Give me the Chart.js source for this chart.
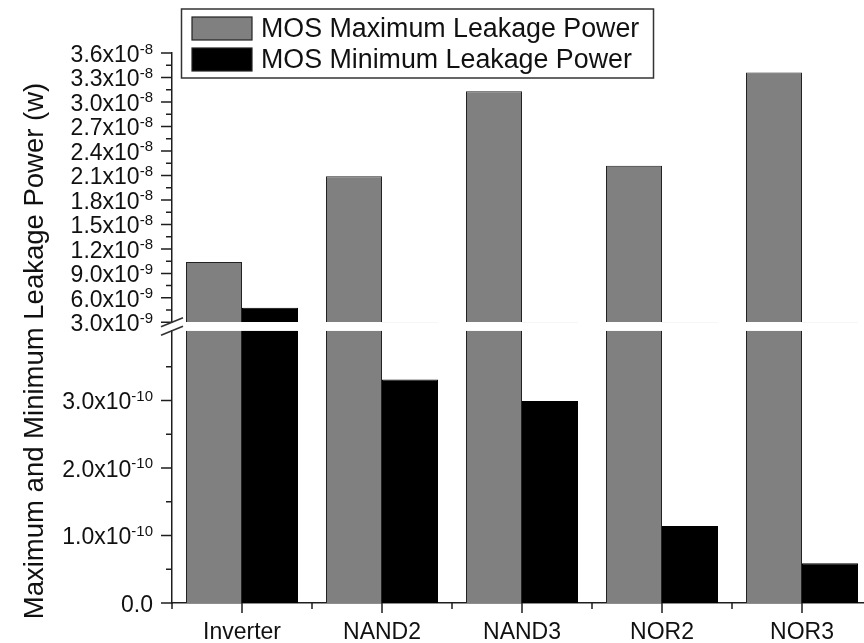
<!DOCTYPE html>
<html>
<head>
<meta charset="utf-8">
<script src="https://cdn.jsdelivr.net/npm/chart.js@4.4.1/dist/chart.umd.min.js"></script>
<style>
  html, body { margin: 0; padding: 0; background: #fff; overflow: hidden; }
  #wrap { width: 880px; height: 643px; }
</style>
</head>
<body>
<div id="wrap"><canvas id="c" width="880" height="643"></canvas></div>
<script>
// Leakage power per logic gate (watts)
const gates = ['Inverter', 'NAND2', 'NAND3', 'NOR2', 'NOR3'];
const maxLeakage = [1.04e-8, 2.09e-8, 3.13e-8, 2.22e-8, 3.36e-8];
const minLeakage = [4.8e-9, 3.31e-10, 2.99e-10, 1.14e-10, 0.59e-10];
const seriesNames = ['MOS Maximum Leakage Power', 'MOS Minimum Leakage Power'];

// Broken value axis: a lower range and an upper range
const lowerRange = [0, 4.03e-10];
const upperRange = [3e-9, 3.6e-8];
const lowerTicks = [0, 1e-10, 2e-10, 3e-10];
const lowerTickLabels = ['0.0', '1.0x10^-10', '2.0x10^-10', '3.0x10^-10'];
const upperTicks = [3e-9, 6e-9, 9e-9, 1.2e-8, 1.5e-8, 1.8e-8, 2.1e-8, 2.4e-8, 2.7e-8, 3.0e-8, 3.3e-8, 3.6e-8];
const upperTickLabels = ['3.0x10^-9', '6.0x10^-9', '9.0x10^-9', '1.2x10^-8', '1.5x10^-8', '1.8x10^-8',
  '2.1x10^-8', '2.4x10^-8', '2.7x10^-8', '3.0x10^-8', '3.3x10^-8', '3.6x10^-8'];
const yTitle = 'Maximum and Minimum Leakage Power (w)';

const FONT = "'Liberation Sans', Arial, Helvetica, sans-serif";
const INK = '#111';
const AXIS = '#1e1e1e';
const GREY = '#808080';

function barSet(label, data, axis, stack, color, edge) {
  const ds = {
    label, data, yAxisID: axis, stack,
    backgroundColor: color, borderColor: edge, borderWidth: 1,
    categoryPercentage: 0.8, barPercentage: 1.0
  };
  if (axis === 'yHigh') ds.base = upperRange[0];
  return ds;
}

// Each bar set is drawn only inside the band of its own value axis
const bandClip = {
  id: 'bandClip',
  beforeDatasetDraw(chart, args) {
    const ys = args.meta.yScale, a = chart.chartArea, ctx = chart.ctx;
    ctx.save();
    ctx.beginPath();
    ctx.rect(a.left, ys.top, a.right - a.left, ys.bottom - ys.top);
    ctx.clip();
  },
  afterDatasetDraw(chart) { chart.ctx.restore(); }
};

// Tick label with a raised power-of-ten exponent, right-aligned at xr
function drawSciLabel(ctx, text, xr, y) {
  const [base, exp] = text.split('^');
  ctx.textAlign = 'right';
  ctx.textBaseline = 'alphabetic';
  let x = xr;
  if (exp) {
    ctx.font = '15px ' + FONT;
    ctx.fillText(exp, x, y + 0.5);
    x -= ctx.measureText(exp).width;
  }
  ctx.font = '23px ' + FONT;
  ctx.fillText(base, x, y + 9);
}

// Tick marks, tick labels, axis-break marks, axis title and legend box
const decorations = {
  id: 'decorations',
  afterDraw(chart) {
    const ctx = chart.ctx;
    const xs = chart.scales.x, hi = chart.scales.yHigh, lo = chart.scales.yLow;
    const ax = hi.right;
    ctx.save();
    ctx.strokeStyle = AXIS;
    ctx.lineWidth = 1.5;

    // value-axis ticks (major + half-step minor) and their labels
    [[hi, upperTickLabels], [lo, lowerTickLabels]].forEach(([s, labels]) => {
      const vals = s.ticks.map(t => t.value);
      const step = vals[1] - vals[0];
      ctx.beginPath();
      vals.forEach(v => {
        const y = s.getPixelForValue(v);
        ctx.moveTo(ax - 11, y); ctx.lineTo(ax, y);
      });
      for (let v = s.min + step / 2; v < s.max; v += step) {
        const y = s.getPixelForValue(v);
        ctx.moveTo(ax - 6, y); ctx.lineTo(ax, y);
      }
      ctx.stroke();
      ctx.fillStyle = INK;
      vals.forEach((v, i) => drawSciLabel(ctx, labels[i], ax - 19, s.getPixelForValue(v)));
    });

    // category-axis ticks: long at centres, short at boundaries
    const y0 = xs.top;
    ctx.beginPath();
    gates.forEach((g, i) => {
      const x = xs.getPixelForValue(i);
      ctx.moveTo(x, y0); ctx.lineTo(x, y0 + 10);
    });
    for (let i = 0; i <= gates.length; i++) {
      const x = xs.getPixelForValue(i - 0.5);
      ctx.moveTo(x, y0); ctx.lineTo(x, y0 + 6);
    }
    ctx.stroke();

    // break marks on the value axis
    ctx.strokeStyle = '#333';
    ctx.lineWidth = 1.6;
    [hi.bottom, lo.top].forEach(yc => {
      ctx.beginPath();
      ctx.moveTo(ax - 11, yc + 4.5);
      ctx.lineTo(ax + 11, yc - 4.5);
      ctx.stroke();
    });

    // axis title
    ctx.fillStyle = INK;
    ctx.font = '27.5px ' + FONT;
    ctx.textAlign = 'center';
    ctx.textBaseline = 'alphabetic';
    ctx.translate(43, 351);
    ctx.rotate(-Math.PI / 2);
    ctx.fillText(yTitle, 0, 0);
    ctx.restore();

    // legend
    ctx.save();
    const box = { x: 181.5, y: 9, w: 472, h: 69 };
    ctx.fillStyle = '#fff';
    ctx.fillRect(box.x, box.y, box.w, box.h);
    ctx.strokeStyle = '#333';
    ctx.lineWidth = 1.5;
    ctx.strokeRect(box.x, box.y, box.w, box.h);
    ctx.font = '26.8px ' + FONT;
    ctx.textAlign = 'left';
    ctx.textBaseline = 'middle';
    const rows = [chart.data.datasets[0], chart.data.datasets[1]];
    rows.forEach((ds, i) => {
      const ry = 17 + i * 31;
      ctx.fillStyle = ds.backgroundColor;
      ctx.fillRect(192, ry, 60, 23);
      ctx.strokeStyle = '#222';
      ctx.lineWidth = 1.2;
      ctx.strokeRect(192, ry, 60, 23);
      ctx.fillStyle = INK;
      ctx.fillText(ds.label, 261, ry + 12.5);
    });
    ctx.restore();
  }
};

const tickFont = { family: FONT, size: 23 };
const leftWidth = s => { s.width = 172; };

new Chart(document.getElementById('c'), {
  type: 'bar',
  data: {
    labels: gates,
    datasets: [
      barSet(seriesNames[0], maxLeakage, 'yLow', 'max', GREY, '#222'),
      barSet(seriesNames[1], minLeakage, 'yLow', 'min', '#000', '#000'),
      barSet(seriesNames[0], maxLeakage, 'yHigh', 'max', GREY, '#222'),
      barSet(seriesNames[1], minLeakage, 'yHigh', 'min', '#000', '#000')
    ]
  },
  options: {
    responsive: false,
    animation: false,
    layout: { padding: { top: 53, right: 8, left: 0, bottom: 0 } },
    plugins: { legend: { display: false }, tooltip: { enabled: false } },
    scales: {
      x: {
        type: 'category',
        stacked: true,
        offset: true,
        grid: { display: false, drawTicks: true, tickLength: 10, offset: true },
        border: { display: true, color: AXIS, width: 1.5 },
        ticks: { font: tickFont, color: INK, padding: 6, maxRotation: 0, autoSkip: false },
        afterFit: s => { s.height = 40; }
      },
      yLow: {
        type: 'linear', position: 'left', stack: 'v', stackWeight: 272.3,
        min: lowerRange[0], max: lowerRange[1], stacked: false,
        afterBuildTicks: s => { s.ticks = lowerTicks.map(v => ({ value: v })); },
        ticks: { display: false, autoSkip: false },
        grid: { display: false, drawTicks: false },
        border: { display: true, color: AXIS, width: 1.5 },
        afterFit: leftWidth
      },
      yGap: {
        type: 'linear', position: 'left', stack: 'v', stackWeight: 8.5,
        ticks: { display: false },
        grid: { display: false, drawTicks: false },
        border: { display: false },
        afterFit: leftWidth
      },
      yHigh: {
        type: 'linear', position: 'left', stack: 'v', stackWeight: 269.5,
        min: upperRange[0], max: upperRange[1], stacked: false,
        afterBuildTicks: s => { s.ticks = upperTicks.map(v => ({ value: v })); },
        ticks: { display: false, autoSkip: false },
        grid: { display: false, drawTicks: false },
        border: { display: true, color: AXIS, width: 1.5 },
        afterFit: leftWidth
      }
    }
  },
  plugins: [bandClip, decorations]
});
</script>
</body>
</html>
